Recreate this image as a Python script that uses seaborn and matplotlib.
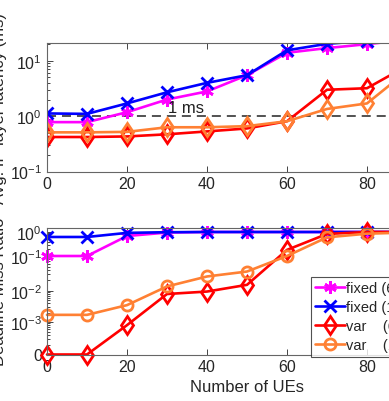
import numpy as np
import matplotlib
matplotlib.use("Agg")
import matplotlib.pyplot as plt
import seaborn as sns
from matplotlib.ticker import FixedLocator, NullFormatter

# number of UEs
n_ues = [0, 10, 20, 30, 40, 50, 60, 70, 80, 90]

# avg. IP-layer latency (ms)
lat_fixed_6 = [0.78, 0.78, 1.18, 2.0, 2.8, 5.5, 14.0, 17.0, 20.0, 24.0]
lat_fixed_1 = [1.12, 1.1, 1.7, 2.7, 4.0, 5.5, 15.5, 20.3, 23.0, 30.0]
lat_var_6 = [0.42, 0.42, 0.43, 0.47, 0.53, 0.6, 0.81, 3.0, 3.2, 8.1]
lat_var_1 = [0.51, 0.51, 0.52, 0.63, 0.63, 0.66, 0.81, 1.35, 1.7, 6.5]

# deadline miss ratio
dmr_fixed_6 = [0.1, 0.1, 0.68, 0.95, 1.0, 1.0, 1.0, 1.0, 1.0, 1.0]
dmr_fixed_1 = [0.62, 0.62, 0.92, 0.98, 1.0, 1.0, 1.0, 1.0, 1.0, 1.0]
dmr_var_6 = [0.0, 0.0, 0.0008, 0.008, 0.0096, 0.015, 0.18, 0.83, 1.0, 1.0]
dmr_var_1 = [0.0017, 0.0017, 0.0035, 0.0135, 0.026, 0.036, 0.1, 0.6, 0.85, 0.95]

labels = ["fixed (64 B)", "fixed (1500 B)", "var    (64 B)", "var    (1500 B)"]
colors = ["#ff00ff", "#0000ff", "#ff0000", "#ff8033"]
asterisk = (6, 2, 0)

sns.set_style("ticks")
plt.rcParams["font.family"] = ["Liberation Sans", "DejaVu Sans"]
plt.rcParams["mathtext.default"] = "regular"
grey = "#262626"

fig = plt.figure(figsize=(3.89, 4.02), dpi=100)
W, H = 389.0, 402.0
ax1 = fig.add_axes([47 / W, (H - 172.5) / H, 400 / W, 128.5 / H])
ax2 = fig.add_axes([47 / W, (H - 355.5) / H, 400 / W, 126.5 / H])

lw = 1.9
# top panel: latency
top_series = [
    (lat_fixed_6, colors[0], asterisk, 9),
    (lat_fixed_1, colors[1], "x", 8),
    (lat_var_6, colors[2], "d", 9.5),
    (lat_var_1, colors[3], "d", 9.5),
]
for vals, c, m, ms in top_series:
    sns.lineplot(x=n_ues, y=vals, ax=ax1, color=c, marker=m, markersize=ms,
                 mfc="none", mec=c, mew=2.0, lw=lw)
ax1.set_yscale("log")
ax1.set_ylim(0.1, 21)
ax1.set_xlim(0, 100)
ax1.axhline(1, ls=(0, (5, 3.3)), color="#444444", lw=1.3, zorder=1)
ax1.text(30.3, 1.05, "1 ms", fontsize=12, color="#222222", va="bottom")
ax1.set_ylabel("Avg. IP-layer latency (ms)", fontsize=12, color=grey, labelpad=2)

# bottom panel: deadline miss ratio on a log axis with "0" at the floor
knots_log = np.array([-4.0, -3.0, -2.0, -1.0, 0.0, 0.5])
knots_pos = np.array([0.0, 32.5, 63.5, 98.5, 122.5, 134.5])


def fwd(y):
    y = np.asarray(y, dtype=float)
    return np.interp(np.log10(np.maximum(y, 1e-4)), knots_log, knots_pos)


def inv(p):
    return 10 ** np.interp(np.asarray(p, dtype=float), knots_pos, knots_log)


bot_series = [
    (dmr_fixed_6, colors[0], asterisk, 9),
    (dmr_fixed_1, colors[1], "x", 8),
    (dmr_var_6, colors[2], "d", 9.5),
    (dmr_var_1, colors[3], "o", 8),
]
for (vals, c, m, ms), lab in zip(bot_series, labels):
    sns.lineplot(x=n_ues, y=vals, ax=ax2, color=c, marker=m, markersize=ms,
                 mfc="none", mec=c, mew=2.0, lw=lw, label=lab, clip_on=False)
ax2.set_yscale("function", functions=(fwd, inv))
ax2.set_ylim(1e-4, inv(126.5))
ax2.set_xlim(0, 100)
ax2.yaxis.set_major_locator(FixedLocator([1e-4, 1e-3, 1e-2, 1e-1, 1]))
ax2.set_yticklabels(["0", "$10^{-3}$", "$10^{-2}$", "$10^{-1}$", "$10^{0}$"])
minors = [k * 10.0 ** e for e in range(-4, 0) for k in range(2, 10)]
ax2.yaxis.set_minor_locator(FixedLocator(minors))
ax2.yaxis.set_minor_formatter(NullFormatter())
ax2.set_ylabel("Deadline Miss Ratio", fontsize=12, color=grey, labelpad=2)
ax2.set_xlabel("Number of UEs", fontsize=12, color=grey, labelpad=3)

leg = ax2.legend(loc="upper left", bbox_to_anchor=(0.66, 0.615), fontsize=10.5,
                 frameon=True, fancybox=False, handlelength=2.0, handletextpad=0.1,
                 borderpad=0.3, labelspacing=0.35, borderaxespad=0)
leg.get_frame().set_edgecolor(grey)
leg.get_frame().set_linewidth(0.8)

for ax in (ax1, ax2):
    ax.set_xticks([0, 20, 40, 60, 80, 100])
    ax.tick_params(which="both", direction="in", top=True, right=True,
                   colors=grey, labelcolor=grey, labelsize=11.5, width=0.6)
    ax.tick_params(which="major", length=4)
    ax.tick_params(which="minor", length=2)
    for s in ax.spines.values():
        s.set_color("#666666")
        s.set_linewidth(0.8)

fig.savefig("out.png", dpi=100)
